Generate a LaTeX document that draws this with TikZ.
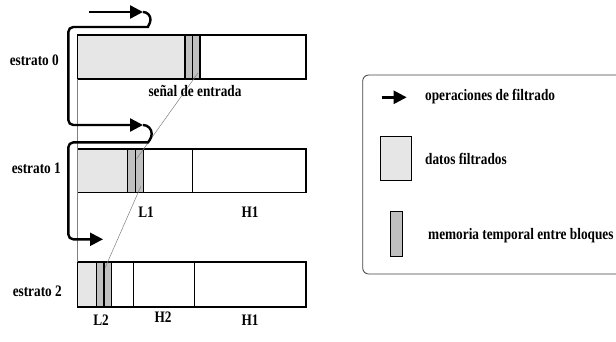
\documentclass[tikz,border=0pt]{standalone}
\usepackage{fontspec}
\setmainfont{Liberation Serif}
\newfontfamily\rotulofont[FakeStretch=0.83]{Liberation Serif}
\usetikzlibrary{arrows.meta}

\definecolor{filtrado}{HTML}{E6E6E6}
\definecolor{memoria}{HTML}{C0C0C0}

\tikzset{
  bloque/.style={draw=black, line width=1.3pt},
  rotulo/.style={font=\rotulofont\fontsize{16}{18}\selectfont\bfseries, inner sep=0pt},
  flujo/.style={line width=2.4pt, rounded corners=5pt},
  punta/.style={-{Triangle[length=13pt,width=13pt]}},
  guia/.style={draw=gray, line width=0.5pt}
}

\begin{document}
\begin{tikzpicture}[x=1pt,y=-1pt]
  \useasboundingbox (0,0) rectangle (616,341);
  \clip (0,0) rectangle (616,341);

  % estrato 0: filtered part and two buffer cells
  \fill[filtrado] (77.7,35) rectangle (185,79);
  \fill[memoria] (185,35) rectangle (200,79);
  \draw[bloque] (77.7,35) rectangle (306,79);
  \foreach \x in {185,192.7,200}
    \draw[bloque] (\x,35) -- (\x,79);

  % estrato 1
  \fill[filtrado] (77.7,149) rectangle (127.7,192.7);
  \fill[memoria] (127.7,149) rectangle (143.3,192.7);
  \draw[bloque] (77.7,149) rectangle (306,192.7);
  \foreach \x in {127.7,135.7,143.3,192.7}
    \draw[bloque] (\x,149) -- (\x,192.7);

  % estrato 2
  \fill[filtrado] (77.7,262) rectangle (96.3,307);
  \fill[memoria] (96.3,262) rectangle (111.7,307);
  \draw[bloque] (77.7,262) rectangle (306,307);
  \foreach \x in {96.3,104,111.7,133.7,194.3}
    \draw[bloque] (\x,262) -- (\x,307);

  % thin guides between the buffers
  \coordinate (m0) at (198,73);
  \coordinate (m1a) at (136.5,159);
  \coordinate (m1b) at (141,186);
  \coordinate (m2) at (105,268);
  \coordinate (izq0) at (77.7,79);
  \coordinate (izq2) at (77.7,262);
  \draw[guia] (m0) -- (m1a);
  \draw[guia] (m1b) -- (m2);
  \draw[guia] (izq0) -- (izq2);

  % filtering loop
  \coordinate (ini) at (89,12);
  \coordinate (p0) at (143,12);
  \coordinate (p1) at (143,125);
  \coordinate (p2) at (103,239.3);
  \draw[flujo, punta] (ini) -- (p0);
  \draw[flujo, punta] (p0) arc[start angle=-90, end angle=90, radius=7.5]
    -- (68.3,27) -- (68.3,125) -- (p1);
  \draw[flujo, punta] (p1) arc[start angle=-90, end angle=90, radius=8.7]
    -- (68.3,142.4) -- (68.3,239.3) -- (p2);

  % labels
  \node[rotulo, anchor=east] (e0) at (59,60) {estrato 0};
  \node[rotulo, anchor=east] (e1) at (61,168) {estrato 1};
  \node[rotulo, anchor=east] (e2) at (62,291) {estrato 2};
  \node[rotulo] (senal) at (195,91) {señal de entrada};
  \node[rotulo] (l1) at (146,212) {L1};
  \node[rotulo] (h1a) at (250,212) {H1};
  \node[rotulo] (l2) at (101,320) {L2};
  \node[rotulo] (h2) at (163,317) {H2};
  \node[rotulo] (h1b) at (250,320) {H1};

  % legend
  \draw[draw=black!75, line width=0.8pt, rounded corners=6pt] (362.7,75) rectangle (650,274);
  \coordinate (ley0) at (381.7,97.3);
  \coordinate (ley1) at (406.7,97.3);
  \draw[flujo, punta] (ley0) -- (ley1);
  \draw[fill=filtrado, line width=1pt] (380.7,136) rectangle (411.7,180);
  \draw[fill=memoria, line width=1pt] (390,211.7) rectangle (402.7,256.7);
  \node[rotulo, anchor=west] (t0) at (425,97) {operaciones de filtrado};
  \node[rotulo, anchor=west] (t1) at (425,159) {datos filtrados};
  \node[rotulo, anchor=west] (t2) at (428,236) {memoria temporal entre bloques};
\end{tikzpicture}
\end{document}
